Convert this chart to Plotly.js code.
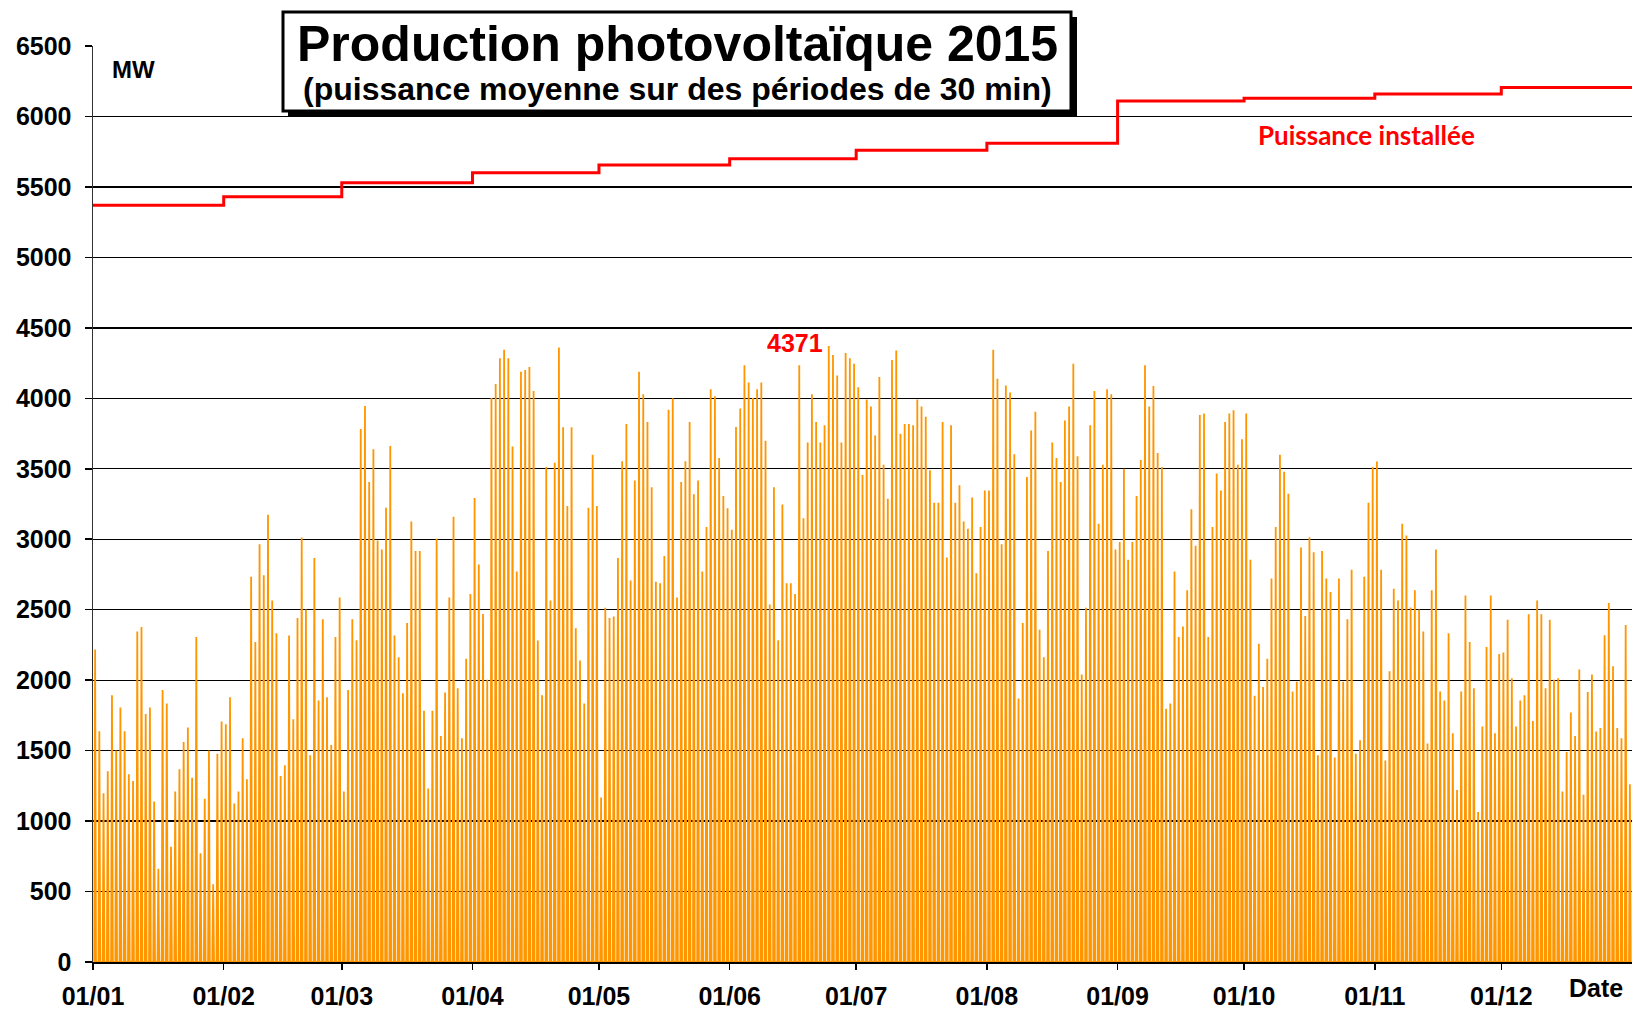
<!DOCTYPE html>
<html>
<head>
<meta charset="utf-8">
<script src="https://cdn.plot.ly/plotly-3.0.1.min.js"></script>
<style>html,body{margin:0;padding:0;background:#fff;}#chart{width:1632px;height:1010px;}</style>
</head>
<body>
<div id="chart"></div>
<script>
// Daily peak of the 30-min mean PV power (MW), one array per month
const peakJan = [2217,1638,1197,1354,1893,1501,1806,1638,1333,1284,2345,2377,1759,1806,1139,661,1930,1835,817,1209,1368,1562,1664,1307,2307,771,1159,1501,551,1478,1707];
const peakFeb = [1687,1878,1125,1209,1588,1296,2733,2270,2965,2745,3174,2565,2333,1319,1397,2316,1722,2441,3012,2501,1467,2867,1855,2432,1878,1539,2307,2586];
const peakMar = [1209,1930,2432,2284,3783,3945,3406,3638,2991,2928,3223,3661,2316,2162,1907,2406,3125,2916,2916,1783,1232,1783,3003,1603,1913,2586,3159,1942,1588,2151,2612];
const peakApr = [3293,2820,2470,2003,4003,4101,4284,4345,4284,3658,2771,4188,4200,4223,4052,2281,1893,3513,2565,3542,4360,3794,3235,3794,2368,2139,1835,3223,3600,3235];
const peakMay = [1168,2513,2441,2452,2867,3554,3817,2707,3417,4188,4029,3832,3368,2699,2687,2881,3919,4000,2586,3406,3554,3832,3319,3417,2771,3087,4064,4014,3577,3307,3220];
const peakJun = [3067,3797,3928,4235,4113,4003,4064,4113,3699,2536,3368,2284,3246,2687,2687,2612,4235,3148,3687,4029,3832,3687,3809,4371,4307,4162,3687,4322,4284,4246];
const peakJul = [4078,3455,3991,3942,3736,4151,3528,3287,4272,4340,3748,3817,3817,3809,3991,3942,3870,3490,3258,3258,3832,2870,3809,3258,3383,3125,3075,3296,2759,3087,3345];
const peakAug = [3345,4345,4139,2965,4090,4041,3603,1870,2406,3441,3771,3904,2357,2162,2916,3687,3577,3406,3843,3942,4246,3588,2041,2513,3809,4052,3110,3528,4064,4029,2928];
const peakSep = [2980,3501,2855,2980,3307,3562,4235,3942,4087,3612,3513,1797,1835,2771,2307,2380,2638,3212,2954,3881,3893,2307,3087,3467,3345,3832,3893,3916,3528,3710];
const peakOct = [3893,2855,1890,2258,1951,2151,2722,3087,3600,3478,3322,1919,1988,2942,2455,3014,2907,1467,2916,2722,2626,1452,2722,1988,2432,2783,1478,1574,2733,3258,3513];
const peakNov = [3551,2783,1429,2064,2649,2565,3110,3026,2516,2638,2501,2345,1551,2638,2928,1919,1855,2333,1623,1220,1919,2600,2270,1942,1064,1672,2235,2600,1623,2186];
const peakDec = [2197,2429,2014,1672,1855,1893,2467,1710,2565,2467,1942,2429,2003,2014,1209,1490,1771,1603,2075,1186,1916,2041,1635,1661,2319,2548,2099,1661,1588,2391,1261];

// Installed PV capacity (MW), one value per month
const installedCapacity = [5370,5430,5530,5600,5655,5700,5760,5810,6110,6130,6160,6205];

// Tick labels (first day of each month)
const monthTickLabels = ['01/01','01/02','01/03','01/04','01/05','01/06','01/07','01/08','01/09','01/10','01/11','01/12'];

const peakLabel = '4371';

function pad(n){return String(n).padStart(2,'0');}
const monthly = [peakJan,peakFeb,peakMar,peakApr,peakMay,peakJun,peakJul,peakAug,peakSep,peakOct,peakNov,peakDec];
const monthStarts = monthly.map((_,m)=>`2015-${pad(m+1)}-01`);

// Each day drawn as a daylight curve: zero at morning, peak at midday, zero at evening
const sx = [], sy = [];
monthly.forEach((arr,m)=>arr.forEach((v,i)=>{
  const d = `2015-${pad(m+1)}-${pad(i+1)}`;
  sx.push(d+' 07:00', d+' 12:00', d+' 17:00');
  sy.push(0, v, 0);
}));

const capX = monthStarts.concat(['2016-01-01']);
const capY = installedCapacity.concat([installedCapacity[installedCapacity.length-1]]);

const tickFont = {family:'Liberation Sans, Arial, sans-serif', size:25, color:'#000', weight:'bold'};

const traces = [
  {x:sx, y:sy, type:'scatter', mode:'lines', line:{color:'#FF9600', width:1.8}, hoverinfo:'skip', showlegend:false},
  {x:capX, y:capY, type:'scatter', mode:'lines', line:{color:'#FF0000', width:3, shape:'hv'}, hoverinfo:'skip', showlegend:false}
];

// plot area: x 93..1632 px, y 46..962 px
const PW = 1539, PH = 916, L = 93, B = 962;
const px = v => (v - L) / PW;
const py = v => (B - v) / PH;

const layout = {
  width:1632, height:1010,
  margin:{l:93, r:0, t:46, b:48},
  paper_bgcolor:'#fff', plot_bgcolor:'#fff',
  showlegend:false,
  xaxis:{
    type:'date', range:['2015-01-01','2016-01-01'],
    tickmode:'array', tickvals:monthStarts, ticktext:monthTickLabels,
    ticks:'outside', ticklen:6, tickwidth:1.5, tickcolor:'#000',
    showline:true, linecolor:'#000', linewidth:1.5,
    showgrid:false, zeroline:false, tickfont:tickFont, ticklabelstandoff:5
  },
  yaxis:{
    range:[0,6500], tick0:0, dtick:500,
    ticks:'outside', ticklen:7, tickwidth:1.5, tickcolor:'#000',
    showline:true, linecolor:'#333', linewidth:1.5,
    showgrid:true, gridcolor:'#000', gridwidth:1.3,
    zeroline:false, tickfont:tickFont, ticklabelstandoff:8
  },
  shapes:[
    {type:'rect', xref:'paper', yref:'paper', x0:px(288), x1:px(1077), y0:py(117), y1:py(17), fillcolor:'#000', line:{width:0}, layer:'above'},
    {type:'rect', xref:'paper', yref:'paper', x0:px(283), x1:px(1071), y0:py(111), y1:py(12), fillcolor:'#fff', line:{color:'#000', width:3}, layer:'above'}
  ],
  annotations:[
    {xref:'paper', yref:'paper', x:px(677), y:py(44), xanchor:'center', yanchor:'middle', showarrow:false,
     text:'Production photovoltaïque 2015', font:{family:'Liberation Sans, Arial, sans-serif', size:50, color:'#000', weight:'bold'}},
    {xref:'paper', yref:'paper', x:px(677), y:py(89), xanchor:'center', yanchor:'middle', showarrow:false,
     text:'(puissance moyenne sur des périodes de 30 min)', font:{family:'Liberation Sans, Arial, sans-serif', size:32, color:'#000', weight:'bold'}},
    {xref:'paper', yref:'paper', x:px(110), y:py(70), xanchor:'left', yanchor:'middle', showarrow:false,
     text:'MW', font:{family:'Liberation Sans, Arial, sans-serif', size:24, color:'#000', weight:'bold'}},
    {xref:'paper', yref:'paper', x:px(795), y:py(343), xanchor:'center', yanchor:'middle', showarrow:false,
     text:peakLabel, font:{family:'Liberation Sans, Arial, sans-serif', size:25, color:'#FF0000', weight:'bold'}},
    {xref:'paper', yref:'paper', x:px(1366), y:py(135), xanchor:'center', yanchor:'middle', showarrow:false,
     text:'Puissance installée', font:{family:'Lato, Open Sans, sans-serif', size:26, color:'#FF0000', weight:'bold'}},
    {xref:'paper', yref:'paper', x:px(1596), y:py(988), xanchor:'center', yanchor:'middle', showarrow:false,
     text:'Date', font:{family:'Liberation Sans, Arial, sans-serif', size:25, color:'#000', weight:'bold'}}
  ]
};

Plotly.newPlot('chart', traces, layout, {staticPlot:true, displayModeBar:false});
</script>
</body>
</html>
